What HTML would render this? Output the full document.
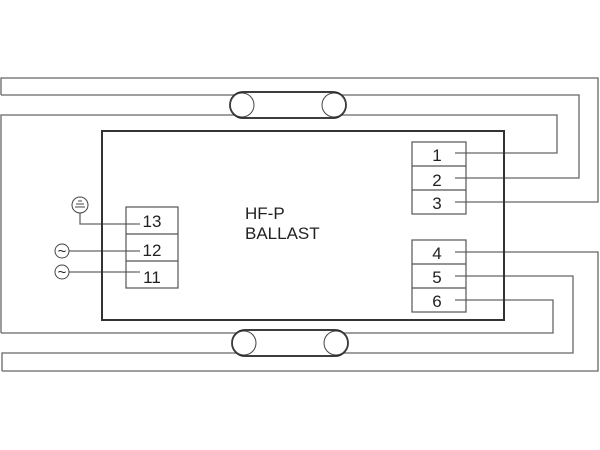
<!DOCTYPE html><html><head><style>body{margin:0;background:#fff}svg{display:block}text{font-family:"Liberation Sans",sans-serif;fill:#222}</style></head><body>
<svg width="600" height="450" viewBox="0 0 600 450" xmlns="http://www.w3.org/2000/svg">
<g fill="none" stroke="#666" stroke-width="1.3">
<polyline points="1,95 1,78 598,78 598,202 455,202"/>
<polyline points="1,95 579,95 579,178 455,178"/>
<polyline points="1,333 1,115 557,115 557,153 455,153"/>
<polyline points="1,333 553,333 553,300 455,300"/>
<polyline points="2,371 2,353 573,353 573,276 455,276"/>
<polyline points="2,371 598,371 598,252 455,252"/>
<polyline points="80,213 80,224 140,224"/>
<line x1="69" y1="251" x2="140" y2="251"/>
<line x1="69" y1="272" x2="140" y2="272"/>
</g>
<rect x="102" y="131" width="402" height="189" fill="none" stroke="#333" stroke-width="2"/>
<g fill="none" stroke="#555" stroke-width="1.2">
<rect x="126" y="207" width="52" height="81"/><line x1="126" y1="234" x2="178" y2="234"/><line x1="126" y1="261" x2="178" y2="261"/>
<rect x="412" y="142" width="54" height="72"/><line x1="412" y1="166" x2="466" y2="166"/><line x1="412" y1="190" x2="466" y2="190"/>
<rect x="412" y="240" width="54" height="72"/><line x1="412" y1="264" x2="466" y2="264"/><line x1="412" y1="288" x2="466" y2="288"/>
</g>
<g fill="#fff" stroke="#222" stroke-width="1.8">
<rect x="230" y="92" width="116" height="26" rx="13"/>
<rect x="232" y="330" width="116" height="26" rx="13"/>
</g>
<g fill="none" stroke="#444" stroke-width="1">
<ellipse cx="242" cy="105" rx="12" ry="12"/><ellipse cx="334" cy="105" rx="12" ry="12"/>
<ellipse cx="244" cy="343" rx="12" ry="12"/><ellipse cx="336" cy="343" rx="12" ry="12"/>
<circle cx="80" cy="205" r="8"/><circle cx="62" cy="251" r="7"/><circle cx="62" cy="272" r="7"/>
<line x1="76" y1="204" x2="84" y2="204"/><line x1="75" y1="207" x2="85" y2="207"/><line x1="78" y1="201" x2="82" y2="201"/>
</g>
<g font-size="15" text-anchor="middle"><text x="62" y="256">~</text><text x="62" y="277">~</text></g>
<g font-size="17" text-anchor="middle">
<text x="152" y="227">13</text><text x="152" y="256">12</text><text x="152" y="283">11</text>
<text x="437" y="161">1</text><text x="437" y="186">2</text><text x="437" y="209">3</text>
<text x="437" y="259">4</text><text x="437" y="283">5</text><text x="437" y="307">6</text>
</g>
<text x="245" y="219" font-size="17">HF-P</text><text x="245" y="239" font-size="17">BALLAST</text>
</svg></body></html>
